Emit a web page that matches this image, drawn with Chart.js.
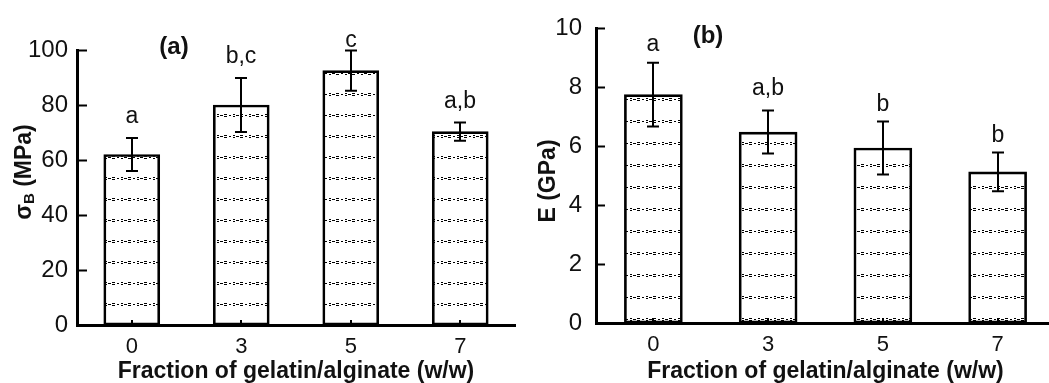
<!DOCTYPE html>
<html>
<head>
<meta charset="utf-8">
<script src="https://cdn.jsdelivr.net/npm/chart.js@4"></script>
<style>
  html, body { margin: 0; padding: 0; background: #fff; overflow: hidden; }
  #wrap { position: relative; width: 1049px; height: 383px; overflow: hidden; }
  #chartA { position: absolute; left: 0; top: 0; }
  #chartB { position: absolute; left: 525px; top: 0; }
</style>
</head>
<body>
<div id="wrap">
  <canvas id="chartA" width="525" height="383"></canvas>
  <canvas id="chartB" width="540" height="383"></canvas>
</div>
<script>
/* data */
const fractions = ['0', '3', '5', '7'];

// (a) tensile strength, MPa
const strengthMPa = [62, 80, 92.5, 70.3];
const strengthErr = [6, 9.8, 7.3, 3.3];
const strengthSig = ['a', 'b,c', 'c', 'a,b'];
const strengthSigY = [73.5, 95.3, 101.1, 78.9];

// (b) young's modulus, GPa
const modulusGPa = [7.75, 6.48, 5.94, 5.13];
const modulusErr = [1.08, 0.73, 0.9, 0.66];
const modulusSig = ['a', 'a,b', 'b', 'b'];
const modulusSigY = [9.23, 7.75, 7.21, 6.14];

const FONT = '"Liberation Sans", Arial, sans-serif';
const INK = '#111';

/* dotted fill of the bars: "=.:=.:" rows */
function makePattern(rowH) {
  const c = document.createElement('canvas');
  c.width = 16; c.height = rowH;
  const g = c.getContext('2d');
  g.fillStyle = '#000';
  const y = Math.floor(rowH / 2);
  g.fillRect(0, y - 1, 3, 1); g.fillRect(0, y + 1, 3, 1);
  g.fillRect(5, y, 2, 1);
  g.fillRect(9, y - 1, 2, 1); g.fillRect(9, y + 1, 2, 1);
  g.fillRect(12, y, 3, 1);
  return g.createPattern(c, 'repeat');
}

/* error bars, inward ticks, letters, panel label, y title */
function makeExtras(cfg) {
  return {
    id: 'extras',
    afterDatasetsDraw(chart) {
      const ctx = chart.ctx;
      const xs = chart.scales.x, ys = chart.scales.y;
      const area = chart.chartArea;
      const vals = chart.data.datasets[0].data;
      ctx.save();
      ctx.strokeStyle = '#000';
      ctx.lineWidth = 2;

      // y ticks pointing into the plot
      ys.ticks.forEach(t => {
        const py = Math.round(ys.getPixelForValue(t.value)) + 0.5;
        ctx.beginPath();
        ctx.moveTo(area.left, py);
        ctx.lineTo(area.left + cfg.yTick, py);
        ctx.stroke();
      });

      vals.forEach((v, i) => {
        const px = Math.round(xs.getPixelForValue(i));
        // x tick
        ctx.beginPath();
        ctx.moveTo(px, area.bottom);
        ctx.lineTo(px, area.bottom - 5);
        ctx.stroke();
        // error bar
        const top = ys.getPixelForValue(v + cfg.err[i]);
        const bot = ys.getPixelForValue(v - cfg.err[i]);
        ctx.beginPath();
        ctx.moveTo(px, top); ctx.lineTo(px, bot);
        ctx.moveTo(px - 6, top); ctx.lineTo(px + 6, top);
        ctx.moveTo(px - 6, bot); ctx.lineTo(px + 6, bot);
        ctx.stroke();
        // significance letters
        ctx.fillStyle = INK;
        ctx.font = '23px ' + FONT;
        ctx.textAlign = 'center';
        ctx.textBaseline = 'alphabetic';
        ctx.fillText(cfg.sig[i], px, ys.getPixelForValue(cfg.sigY[i]));
      });

      // panel label
      ctx.font = 'bold 24px ' + FONT;
      ctx.textAlign = 'center';
      ctx.fillText(cfg.panel, cfg.panelX, cfg.panelY);

      // y title with subscript
      ctx.translate(cfg.titleX, cfg.titleY);
      ctx.rotate(-Math.PI / 2);
      const parts = cfg.title;
      const fontOf = p => (p.sub ? 'bold 15px ' : 'bold 23px ') + FONT;
      let w = 0;
      parts.forEach(p => { ctx.font = fontOf(p); w += ctx.measureText(p.t).width; });
      let x = -w / 2;
      ctx.textAlign = 'left';
      ctx.textBaseline = 'middle';
      parts.forEach(p => {
        ctx.font = fontOf(p);
        ctx.fillText(p.t, x, p.sub ? 5 : 0);
        x += ctx.measureText(p.t).width;
      });
      ctx.restore();
    }
  };
}

function makePanel(id, values, opt) {
  const ctx = document.getElementById(id).getContext('2d');
  return new Chart(ctx, {
    type: 'bar',
    data: {
      labels: fractions,
      datasets: [{
        data: values,
        backgroundColor: makePattern(opt.rowH),
        borderColor: '#000',
        borderWidth: 2,
        borderSkipped: false,
        barThickness: opt.barW
      }]
    },
    options: {
      responsive: false,
      animation: false,
      events: [],
      layout: { padding: { top: opt.padTop, right: opt.padRight, left: 0, bottom: 0 } },
      plugins: { legend: { display: false }, tooltip: { enabled: false } },
      scales: {
        x: {
          grid: { display: false, drawTicks: false },
          border: { display: true, width: 3, color: '#000' },
          ticks: { color: INK, font: { family: FONT, size: 22 }, padding: 9 },
          title: {
            display: true,
            text: 'Fraction of gelatin/alginate (w/w)',
            color: INK,
            font: { family: FONT, size: 23, weight: 'bold', lineHeight: 1 },
            padding: { top: 0, bottom: 0 }
          },
          afterFit: s => { s.height = opt.xH; }
        },
        y: {
          min: 0,
          max: opt.yMax,
          grid: { display: false, drawTicks: false },
          border: { display: true, width: 3, color: '#000' },
          ticks: { stepSize: opt.step, color: INK, font: { family: FONT, size: 24 }, padding: opt.tickPad },
          afterFit: s => { s.width = opt.yW; }
        }
      }
    },
    plugins: [makeExtras(opt.extras)]
  });
}

makePanel('chartA', strengthMPa, {
  rowH: 21, barW: 56, padTop: 50, padRight: 10, xH: 58, yW: 77,
  yMax: 100, step: 20, tickPad: 9,
  extras: {
    err: strengthErr, sig: strengthSig, sigY: strengthSigY, yTick: 10,
    panel: '(a)', panelX: 174, panelY: 54,
    title: [{ t: 'σ' }, { t: 'B', sub: true }, { t: ' (MPa)' }], titleX: 25, titleY: 172
  }
});

makePanel('chartB', modulusGPa, {
  rowH: 22, barW: 58, padTop: 25, padRight: 10, xH: 60, yW: 71,
  yMax: 10, step: 2, tickPad: 14,
  extras: {
    err: modulusErr, sig: modulusSig, sigY: modulusSigY, yTick: 9,
    panel: '(b)', panelX: 183, panelY: 43,
    title: [{ t: 'E (GPa)' }], titleX: 24, titleY: 181
  }
});
</script>
</body>
</html>
